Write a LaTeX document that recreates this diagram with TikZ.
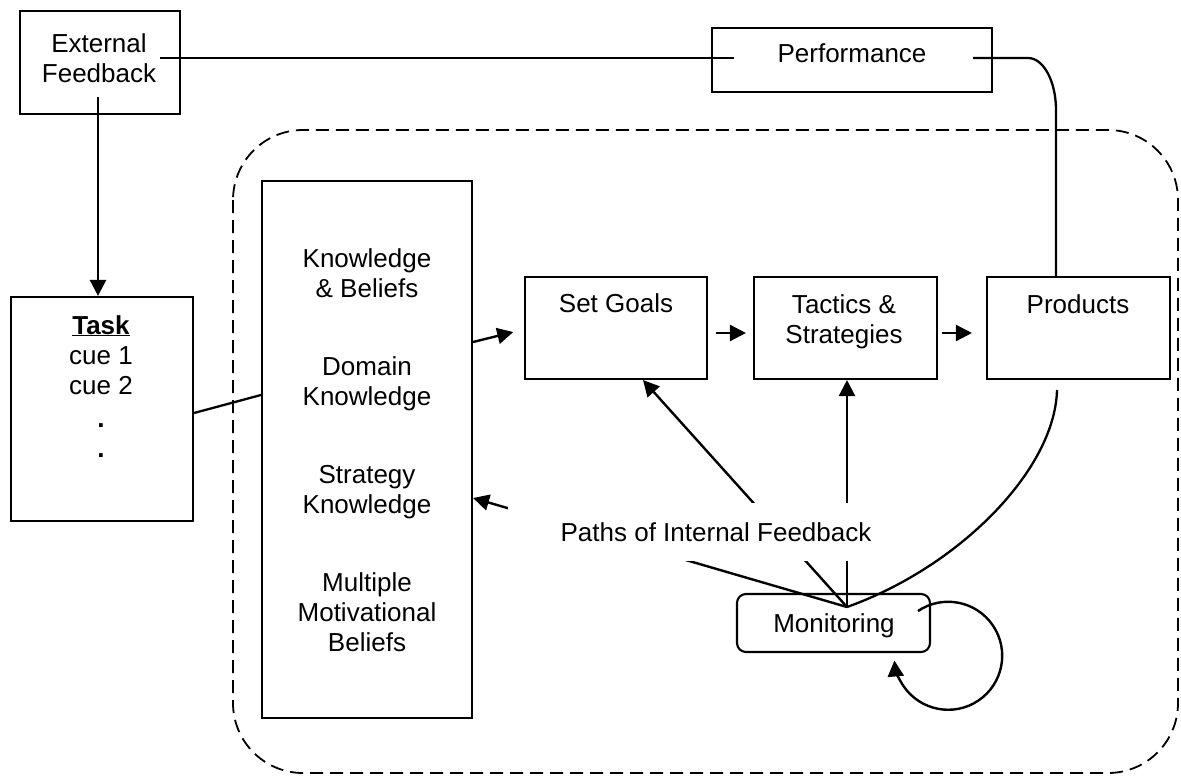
\documentclass[tikz,border=0pt]{standalone}
\usepackage{fontspec}
\setmainfont{Liberation Sans}
\usetikzlibrary{arrows.meta,calc}
\begin{document}
\begin{tikzpicture}[x=1pt,y=-1pt,
  every node/.style={font=\fontsize{26}{30}\selectfont},
  box/.style={draw, line width=2.1pt, inner sep=0pt, rectangle},
  txt/.style={inner sep=0pt, align=center},
  conn/.style={line width=2.3pt},
  arr/.style={line width=2.4pt, -{Triangle[length=16pt,width=16pt]}},
  region/.style={line width=1.8pt, dash pattern=on 13pt off 7pt, rounded corners=70pt}
]
\useasboundingbox (0,0) rectangle (1181,776);
% dashed region
\draw[region] (233,130) rectangle (1178,773);

% boxes
\node[box, minimum width=160, minimum height=103] (ef) at (100,62.5) {};
\node[txt, anchor=north] (efT) at (99,33) {External\\Feedback};
\node[box, minimum width=280, minimum height=64] (perf) at (852,60) {};
\node[txt, anchor=base] (perfT) at (852,63) {Performance};
\node[box, minimum width=182, minimum height=224] (task) at (102,409) {};
\node[txt, anchor=north] (taskT) at (101,315) {\underline{\textbf{Task}}\\cue 1\\cue 2\\[3pt]\textbf{.}\\\textbf{.}};
\node[box, minimum width=210, minimum height=537] (kb) at (367,449.5) {};
\node[txt, anchor=north] (kbT) at (367,248) {Knowledge\\\& Beliefs\\[48pt]Domain\\Knowledge\\[48pt]Strategy\\Knowledge\\[48pt]Multiple\\Motivational\\Beliefs};
\node[box, minimum width=182, minimum height=102] (sg) at (616,328) {};
\node[txt, anchor=base] (sgT) at (616,312) {Set Goals};
\node[box, minimum width=183, minimum height=102] (ts) at (845.5,328) {};
\node[txt, anchor=north] (tsT) at (844,294) {Tactics \&\\Strategies};
\node[box, minimum width=183, minimum height=102] (pr) at (1078.5,328) {};
\node[txt, anchor=base] (prT) at (1078,313) {Products};
\node[box, rounded corners=9pt, minimum width=193, minimum height=58] (mon) at (833.5,623) {};
\node[txt, anchor=base] (monT) at (834,632) {Monitoring};

% free connector ends
\coordinate (efR) at (160,58);
\coordinate (efB) at (98,97);
\coordinate (perfL) at (734,58);
\coordinate (perfR) at (973,58);
\coordinate (pc) at (1056,110);
\coordinate (M) at (847,607);
\coordinate (prB) at (1057,390);
\coordinate (loopS) at (918,611);

% connectors
\draw[conn] (efR) -- (perfL);
\draw[arr] (efB) -- (efB |- task.north);
\draw[conn] (perfR) -- (1028,58) .. controls (1043.5,58) and (1056,81.3) .. (pc) -- (pc |- pr.north);
\draw[conn] ($(task.east)+(0,4)$) -- ($(kb.west)+(0,-54.5)$);
\draw[arr, shorten >=11pt] ($(kb.east)+(0,-107.5)$) -- ($(sg.west)+(0,1.4)$);
\draw[arr, shorten <=8pt, shorten >=7pt] ($(sg.east)+(0,5)$) -- ($(ts.west)+(0,5)$);
\draw[arr, shorten <=4pt, shorten >=14pt] ($(ts.east)+(0,5)$) -- ($(pr.west)+(0,5)$);
\draw[arr] (M) -- ($(sg.south)+(27,0)$);
\draw[arr] (M) -- (M |- ts.south);
\draw[arr] (M) -- ($(kb.east)+(0,48.5)$);
\draw[conn] (M) .. controls (959,567) and (1055,470) .. (prB);
\draw[arr] (loopS) arc[start angle=-124, end angle=175, radius=54];

\node[fill=white, inner sep=0pt, minimum width=416, minimum height=58] (pif) at (716,532) {Paths of Internal Feedback};
\end{tikzpicture}
\end{document}
